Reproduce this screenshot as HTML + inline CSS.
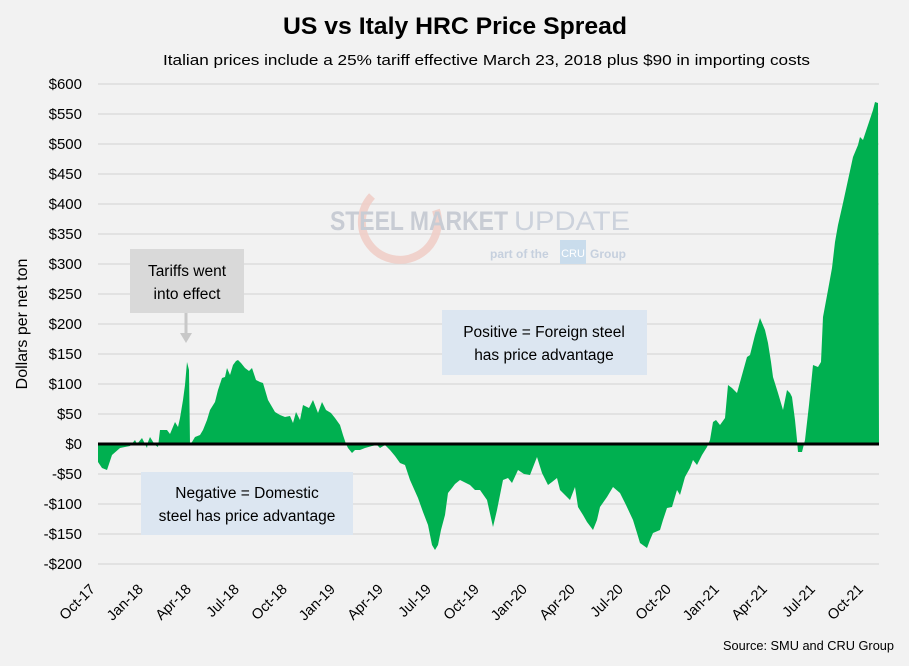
<!DOCTYPE html>
<html><head><meta charset="utf-8"><style>
body{margin:0;background:#f2f2f2;}
svg text{font-family:"Liberation Sans",sans-serif;}
</style></head><body>
<svg width="909" height="661" viewBox="0 0 909 661" xmlns="http://www.w3.org/2000/svg">
<rect width="909" height="661" fill="#f2f2f2"/>
<text x="283" y="34" textLength="344" lengthAdjust="spacingAndGlyphs" font-size="24" font-weight="bold" fill="#000">US vs Italy HRC Price Spread</text>
<text x="163" y="65" textLength="647" lengthAdjust="spacingAndGlyphs" font-size="15" fill="#000">Italian prices include a 25% tariff effective March 23, 2018 plus $90 in importing costs</text>
<g stroke="#d9d9d9" stroke-width="1.2">
<line x1="98" x2="879" y1="84" y2="84"/><line x1="98" x2="879" y1="114" y2="114"/><line x1="98" x2="879" y1="144" y2="144"/><line x1="98" x2="879" y1="174" y2="174"/><line x1="98" x2="879" y1="204" y2="204"/><line x1="98" x2="879" y1="234" y2="234"/><line x1="98" x2="879" y1="264" y2="264"/><line x1="98" x2="879" y1="294" y2="294"/><line x1="98" x2="879" y1="324" y2="324"/><line x1="98" x2="879" y1="354" y2="354"/><line x1="98" x2="879" y1="384" y2="384"/><line x1="98" x2="879" y1="414" y2="414"/><line x1="98" x2="879" y1="474" y2="474"/><line x1="98" x2="879" y1="504" y2="504"/><line x1="98" x2="879" y1="534" y2="534"/><line x1="98" x2="879" y1="564" y2="564"/>
</g>
<!-- watermark -->
<path d="M372,196 A38,38 0 1,0 436,210" fill="none" stroke="#f0cdc6" stroke-width="8" opacity="0.85"/>
<text x="330" y="230" textLength="178" lengthAdjust="spacingAndGlyphs" font-size="27" font-weight="bold" fill="#c8ccd4">STEEL MARKET</text>
<text x="514" y="230" textLength="116" lengthAdjust="spacingAndGlyphs" font-size="27" fill="#ccd2dc">UPDATE</text>
<text x="490" y="258" font-size="12" font-weight="bold" fill="#c6d0de">part of the</text>
<rect x="560" y="240" width="26" height="24" fill="#c9dcec"/>
<text x="573" y="257" text-anchor="middle" font-size="11" fill="#fff">CRU</text>
<text x="590" y="258" font-size="12" font-weight="bold" fill="#c6d0de">Group</text>
<g font-size="15" fill="#000" text-anchor="end">
<text x="82" y="89">$600</text><text x="82" y="119">$550</text><text x="82" y="149">$500</text><text x="82" y="179">$450</text><text x="82" y="209">$400</text><text x="82" y="239">$350</text><text x="82" y="269">$300</text><text x="82" y="299">$250</text><text x="82" y="329">$200</text><text x="82" y="359">$150</text><text x="82" y="389">$100</text><text x="82" y="419">$50</text><text x="82" y="449">$0</text><text x="82" y="479">-$50</text><text x="82" y="509">-$100</text><text x="82" y="539">-$150</text><text x="82" y="569">-$200</text>
</g>
<text transform="translate(27,324) rotate(-90)" text-anchor="middle" font-size="16" fill="#000">Dollars per net ton</text>
<polygon fill="#00b050" points="98,444 98,462 102,468 107,470 112,455 120,448 130,446 135,440 137,444 142,438 147,448 148,442 150,437 155,445 158,447 160,430 167,430 170,434 175,422 178,427 180,418 183,400 185,385 187,362 189,370 190,444 192,442 195,437 200,435 203,430 207,420 210,410 215,402 218,390 222,378 225,377 227,368 230,375 233,365 236,361 238,360 241,363 245,368 249,371 252,368 256,380 260,382 263,383 268,400 275,412 280,415 285,417 290,416 293,423 296,412 300,420 303,405 309,408 313,400 318,413 322,402 326,410 331,413 335,418 340,425 343,435 346,444 348,448 352,453 355,450 360,450 365,448 372,446 377,445 380,448 385,445 390,450 395,456 400,463 405,465 410,480 418,498 423,512 428,525 432,545 435,550 438,545 441,530 445,515 448,493 452,488 455,484 460,480 464,482 470,485 475,490 480,490 487,500 493,527 497,510 503,480 508,478 512,483 518,470 524,474 530,475 537,457 542,473 548,485 552,482 557,478 560,490 565,495 570,500 575,487 578,507 583,515 587,522 593,530 597,520 600,507 607,497 613,487 620,493 626,505 633,520 637,533 640,543 647,548 650,540 653,533 660,530 663,520 667,508 672,507 677,490 680,495 685,477 690,468 693,460 697,465 702,455 707,447 710,440 713,422 716,420 720,425 725,418 728,385 732,388 737,393 742,375 747,357 750,355 755,335 760,318 765,330 768,343 771,362 773,377 778,393 783,410 787,390 790,393 792,397 795,420 797,440 798,452 802,452 805,440 809,405 813,365 818,367 821,362 823,317 828,290 832,268 835,242 838,225 843,203 848,180 853,157 858,145 860,137 863,140 868,125 873,110 875,102 878,103 879,444"/>
<line x1="98" x2="879" y1="444" y2="444" stroke="#000" stroke-width="3"/>
<!-- annotations -->
<rect x="130" y="249" width="114" height="64" fill="#d9d9d9"/>
<text x="187" y="276" text-anchor="middle" font-size="15.5" fill="#000">Tariffs went</text>
<text x="187" y="299" text-anchor="middle" font-size="15.5" fill="#000">into effect</text>
<line x1="186" y1="313" x2="186" y2="334" stroke="#c8c8c8" stroke-width="3"/>
<polygon points="180,333 192,333 186,343" fill="#c8c8c8"/>
<rect x="442" y="310" width="205" height="65" fill="#dce6f1"/>
<text x="544" y="337" text-anchor="middle" font-size="15.5" fill="#000">Positive = Foreign steel</text>
<text x="544" y="360" text-anchor="middle" font-size="15.5" fill="#000">has price advantage</text>
<rect x="141" y="472" width="212" height="63" fill="#dce6f1"/>
<text x="247" y="498" text-anchor="middle" font-size="15.5" fill="#000">Negative = Domestic</text>
<text x="247" y="521" text-anchor="middle" font-size="15.5" fill="#000">steel has price advantage</text>
<g font-size="14.5" fill="#000" text-anchor="end">
<text transform="translate(96,590) rotate(-45)">Oct-17</text>
<text transform="translate(144,590) rotate(-45)">Jan-18</text>
<text transform="translate(192,590) rotate(-45)">Apr-18</text>
<text transform="translate(240,590) rotate(-45)">Jul-18</text>
<text transform="translate(288,590) rotate(-45)">Oct-18</text>
<text transform="translate(336,590) rotate(-45)">Jan-19</text>
<text transform="translate(384,590) rotate(-45)">Apr-19</text>
<text transform="translate(432,590) rotate(-45)">Jul-19</text>
<text transform="translate(480,590) rotate(-45)">Oct-19</text>
<text transform="translate(528,590) rotate(-45)">Jan-20</text>
<text transform="translate(576,590) rotate(-45)">Apr-20</text>
<text transform="translate(624,590) rotate(-45)">Jul-20</text>
<text transform="translate(672,590) rotate(-45)">Oct-20</text>
<text transform="translate(720,590) rotate(-45)">Jan-21</text>
<text transform="translate(768,590) rotate(-45)">Apr-21</text>
<text transform="translate(816,590) rotate(-45)">Jul-21</text>
<text transform="translate(864,590) rotate(-45)">Oct-21</text>
</g>
<text x="723" y="650" textLength="171" lengthAdjust="spacingAndGlyphs" font-size="12.5" fill="#000">Source: SMU and CRU Group</text>
</svg>
</body></html>
